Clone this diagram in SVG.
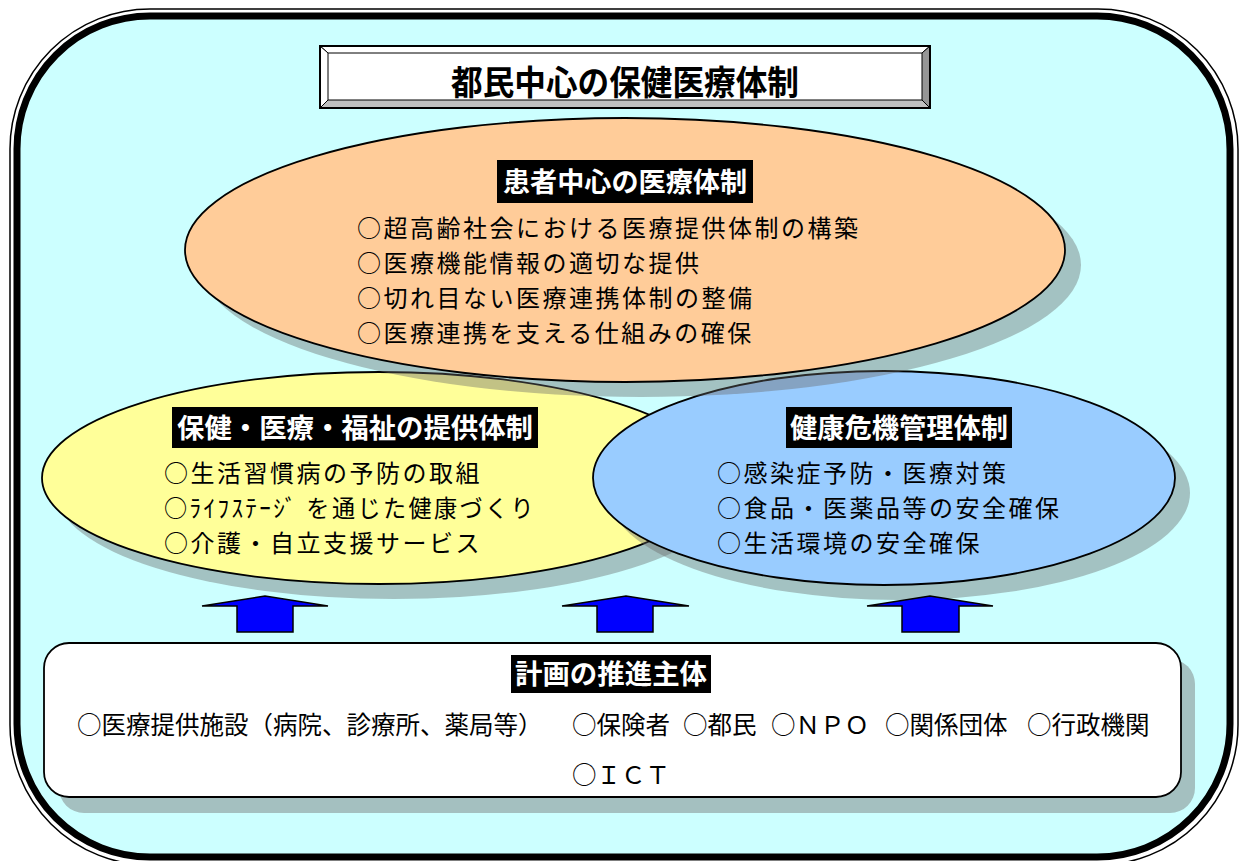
<svg xmlns="http://www.w3.org/2000/svg" width="1247" height="861" viewBox="0 0 1247 861">
<style>
.jp{font-family:"Noto Sans CJK JP","Noto Sans",sans-serif;}
.item{font-family:"Noto Sans CJK JP","Noto Sans",sans-serif;font-size:24px;letter-spacing:2.5px;fill:#000;}
.item2{font-family:"Noto Sans CJK JP","Noto Sans",sans-serif;font-size:24.5px;fill:#000;}
.hd{font-family:"Noto Sans CJK JP","Noto Sans",sans-serif;font-size:27px;font-weight:bold;fill:#fff;}
.hdbg{fill:#000;}
.shadow{fill:#666;fill-opacity:0.4;}
.ell{stroke:#000;stroke-width:1.8;}
.arrow{fill:#0000FF;stroke:#000;stroke-width:1.5;stroke-linejoin:miter;}
</style>
<g id="frame">
<rect x="10" y="9" width="1228" height="856" rx="140" ry="140" fill="#fff" stroke="#000" stroke-width="1.5"/>
<rect x="17" y="16" width="1213" height="841" rx="133" ry="133" fill="#CCFFFF" stroke="#000" stroke-width="7"/>
</g>
<g id="title">
<rect x="320" y="46" width="610" height="62" fill="#fff" stroke="#000" stroke-width="1.5"/>
<polygon points="320,46 930,46 922,53 328,53" fill="#fff" stroke="#000" stroke-width="1"/>
<polygon points="320,46 328,53 328,100 320,108" fill="#fff" stroke="#000" stroke-width="1"/>
<polygon points="320,108 328,100 922,100 930,108" fill="#C0C0C0" stroke="#000" stroke-width="1"/>
<polygon points="930,46 922,53 922,100 930,108" fill="#969696" stroke="#000" stroke-width="1"/>
<rect x="320" y="46" width="610" height="62" fill="none" stroke="#000" stroke-width="2"/>
<text class="jp" x="625" y="95" text-anchor="middle" font-size="34" font-weight="bold" textLength="348" lengthAdjust="spacingAndGlyphs" fill="#000">都民中心の保健医療体制</text>
</g>
<g id="node-hoken">
<ellipse class="shadow" cx="394" cy="493" rx="337" ry="106"/>
<ellipse class="ell" cx="379" cy="478" rx="337" ry="106" fill="#FFFF99"/>
</g>
<g id="node-kiki">
<ellipse class="shadow" cx="899" cy="493" rx="291" ry="107"/>
<ellipse class="ell" cx="884" cy="478" rx="291" ry="107" fill="#99CCFF"/>
</g>
<g id="node-kanja">
<ellipse class="shadow" cx="641" cy="265" rx="440" ry="132"/>
<ellipse class="ell" cx="625" cy="250" rx="440" ry="132" fill="#FFCC99"/>
<rect class="hdbg" x="497" y="160" width="256" height="43"/>
<text class="hd" x="625" y="192" text-anchor="middle" textLength="244" lengthAdjust="spacingAndGlyphs">患者中心の医療体制</text>
<text class="item" x="357" y="237">○超高齢社会における医療提供体制の構築</text>
<text class="item" x="357" y="272">○医療機能情報の適切な提供</text>
<text class="item" x="357" y="307">○切れ目ない医療連携体制の整備</text>
<text class="item" x="357" y="342">○医療連携を支える仕組みの確保</text>
</g>
<g id="node-hoken-text">
<rect class="hdbg" x="172" y="407" width="366" height="41"/>
<text class="hd" x="355" y="438" text-anchor="middle" textLength="356" lengthAdjust="spacingAndGlyphs">保健・医療・福祉の提供体制</text>
<text class="item" x="164" y="482">○生活習慣病の予防の取組</text>
<text class="item" x="164" y="517" letter-spacing="0" textLength="372" lengthAdjust="spacingAndGlyphs">○ﾗｲﾌｽﾃｰｼﾞ を通じた健康づくり</text>
<text class="item" x="164" y="552">○介護・自立支援サービス</text>
</g>
<g id="node-kiki-text">
<rect class="hdbg" x="786" y="407" width="226" height="41"/>
<text class="hd" x="899" y="438" text-anchor="middle" textLength="218" lengthAdjust="spacingAndGlyphs">健康危機管理体制</text>
<text class="item" x="717" y="482">○感染症予防・医療対策</text>
<text class="item" x="717" y="517">○食品・医薬品等の安全確保</text>
<text class="item" x="717" y="552">○生活環境の安全確保</text>
</g>
<g id="connectors">
<polygon class="arrow" points="202,606 265,596 328,606 293,606 293,632 237,632 237,606"/>
<polygon class="arrow" points="562,606 626,596 689,606 653,606 653,632 597,632 597,606"/>
<polygon class="arrow" points="867,606 930,596 993,606 959,606 959,632 902,632 902,606"/>
</g>
<g id="node-suishin">
<rect x="59" y="659" width="1136" height="154" rx="25" ry="25" fill="#A4C0C0"/>
<rect x="44" y="643" width="1137" height="154" rx="25" ry="25" fill="#fff" stroke="#000" stroke-width="1.8"/>
<rect class="hdbg" x="511" y="655" width="200" height="38"/>
<text class="hd" x="611" y="684" text-anchor="middle" textLength="192" lengthAdjust="spacingAndGlyphs">計画の推進主体</text>
<text class="item2" y="734"><tspan x="77">○医療提供施設（病院、診療所、薬局等）</tspan><tspan x="572">○保険者</tspan><tspan x="683">○都民</tspan><tspan x="771">○ＮＰＯ</tspan><tspan x="885">○関係団体</tspan><tspan x="1027">○行政機関</tspan></text>
<text class="item2" x="572" y="784">○ＩＣＴ</text>
</g>
</svg>
